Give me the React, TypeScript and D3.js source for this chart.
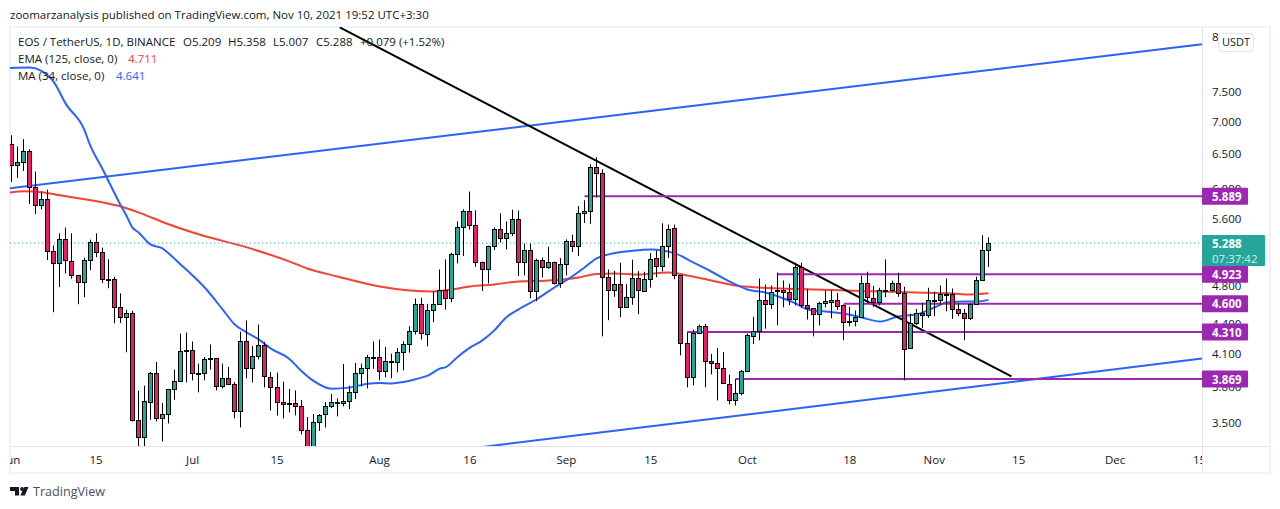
import React from "react";
import { scaleLinear, scaleLog, line, curveMonotoneX, format } from "d3";

// daily candles, index 0 = Jun 1 2021
const opens = [
  6.635,6.325,6.379,6.543,6.023,5.778,5.858,5.197,5.055,5.343,5.079,4.917,4.838,5.090,5.306,5.185,4.872,4.870,4.568,4.464,
  4.505,3.521,3.385,3.670,3.923,3.537,3.570,3.781,3.852,4.136,4.136,3.923,3.923,4.052,4.061,3.808,3.878,3.825,3.594,4.223,
  3.969,4.080,4.185,3.887,3.799,3.670,3.661,3.661,3.636,3.441,3.303,3.505,3.570,3.636,3.670,3.661,3.678,3.755,3.923,3.969,
  4.070,4.070,3.941,4.033,4.024,4.117,4.190,4.317,4.599,4.288,4.536,4.599,4.750,4.663,5.161,5.492,5.698,5.518,5.067,4.985,
  5.257,5.467,5.355,5.417,5.594,5.067,5.208,4.739,5.090,5.008,5.067,4.827,5.044,5.318,5.257,5.672,5.698,6.306,6.219,4.895,
  4.750,4.816,4.568,4.674,4.883,4.739,4.872,5.114,5.019,5.257,5.480,4.917,4.204,3.887,4.302,4.372,4.033,4.015,3.969,3.825,
  3.686,3.747,3.941,4.270,4.321,4.642,4.599,4.750,4.753,4.728,4.653,5.008,4.584,4.553,4.490,4.610,4.621,4.642,4.584,4.423,
  4.423,4.464,4.827,4.663,4.621,4.750,4.750,4.827,4.717,4.155,4.402,4.505,4.484,4.642,4.642,4.707,4.707,4.546,4.505,4.453,
  4.599,4.861,5.209,
];
const highs = [
  6.777,6.604,6.716,6.563,6.234,5.953,5.981,5.261,5.408,5.480,5.408,4.917,5.114,5.330,5.408,5.233,5.094,4.895,4.710,4.536,
  4.526,3.766,3.810,3.932,4.024,3.661,3.781,3.953,4.295,4.305,4.217,4.008,4.070,4.188,4.061,4.008,3.978,3.843,4.314,4.426,
  4.175,4.385,4.214,3.932,3.926,3.845,3.781,3.769,3.686,3.545,3.570,3.570,3.670,3.738,3.700,4.005,3.810,4.015,4.008,4.089,
  4.217,4.236,4.165,4.101,4.155,4.220,4.368,4.656,4.663,4.599,4.735,4.977,5.094,5.173,5.560,5.715,5.953,5.702,5.067,5.257,
  5.480,5.663,5.560,5.711,5.698,5.282,5.282,5.102,5.114,5.245,5.067,5.109,5.334,5.392,5.759,5.835,6.340,6.442,6.267,4.977,
  4.962,5.055,4.812,5.090,4.958,4.951,5.168,5.197,5.534,5.518,5.518,4.917,4.302,4.334,4.385,4.392,4.099,4.155,4.117,3.908,
  3.869,3.950,4.295,4.464,4.875,4.808,4.797,4.940,4.853,4.816,5.055,5.055,4.761,4.553,4.621,4.742,4.742,4.717,4.592,4.568,
  4.529,4.906,4.951,4.794,4.772,5.094,4.850,4.940,4.783,4.495,4.546,4.610,4.772,4.731,4.797,4.875,4.764,4.603,4.546,4.599,
  4.895,5.384,5.358,
];
const lows = [
  6.086,6.143,6.243,5.785,5.654,5.715,5.086,4.511,4.779,4.932,4.872,4.595,4.670,4.969,5.121,4.823,4.767,4.398,4.402,4.114,
  3.509,3.300,3.300,3.523,3.509,3.351,3.493,3.689,3.848,3.839,3.857,3.752,3.857,3.953,3.769,3.786,3.822,3.534,3.461,3.875,
  3.839,4.048,3.795,3.599,3.558,3.534,3.583,3.558,3.406,3.250,3.270,3.433,3.461,3.619,3.550,3.633,3.611,3.695,3.804,3.786,
  3.960,3.857,3.883,3.875,3.929,3.947,4.111,4.285,4.236,4.171,4.408,4.599,4.539,4.616,5.047,5.133,5.458,5.008,4.735,4.820,
  5.204,5.294,5.212,5.375,4.901,4.909,4.659,4.627,4.887,4.985,4.808,4.772,4.909,5.180,5.133,5.538,5.526,5.875,4.268,4.429,
  4.674,4.460,4.557,4.589,4.490,4.731,4.775,4.889,4.954,5.109,4.867,4.085,3.795,3.813,4.292,3.795,3.911,3.683,3.834,3.650,
  3.641,3.726,3.941,4.192,4.229,4.344,4.546,4.378,4.563,4.585,4.582,4.557,4.436,4.268,4.375,4.563,4.449,4.536,4.229,4.368,
  4.368,4.460,4.610,4.568,4.582,4.670,4.728,4.674,3.857,4.146,4.381,4.351,4.453,4.470,4.589,4.521,4.443,4.470,4.229,4.429,
  4.589,4.850,5.007,
];
const closes = [
  6.325,6.379,6.543,6.023,5.778,5.858,5.197,5.055,5.343,5.090,4.917,4.838,5.090,5.306,5.185,4.872,4.870,4.568,4.464,4.505,
  3.521,3.385,3.678,3.923,3.537,3.570,3.781,3.852,4.127,4.127,3.923,3.923,4.052,4.061,3.808,3.878,3.825,3.594,4.223,3.969,
  4.080,4.185,3.896,3.799,3.670,3.653,3.653,3.636,3.441,3.303,3.505,3.562,3.636,3.670,3.661,3.678,3.755,3.923,3.969,4.070,
  4.068,3.941,4.033,4.024,4.117,4.193,4.317,4.599,4.302,4.536,4.599,4.750,4.663,5.161,5.492,5.698,5.518,5.067,4.985,5.257,
  5.467,5.355,5.417,5.594,5.067,5.208,4.739,5.090,5.008,5.067,4.827,5.044,5.318,5.257,5.672,5.698,6.306,6.219,4.895,4.750,
  4.816,4.568,4.674,4.883,4.750,4.872,5.102,5.019,5.257,5.467,4.917,4.204,3.884,4.302,4.372,4.033,4.015,3.969,3.834,3.686,
  3.747,3.941,4.282,4.321,4.642,4.599,4.728,4.739,4.728,4.653,5.008,4.584,4.553,4.490,4.606,4.632,4.642,4.578,4.412,4.412,
  4.464,4.827,4.674,4.621,4.750,4.748,4.827,4.717,4.146,4.402,4.505,4.484,4.642,4.640,4.707,4.705,4.546,4.505,4.453,4.599,
  4.861,5.209,5.288,
];

const maDays = [-1,3,5,7,9,12,13,15,18,19,20,21,23,25,26,28,30,32,35,37,39,41,43,46,48,50,53,56,59,61,63,65,67,69,71,72,74,76,78,80,82,84,87,90,93,95,97,99,103,106,110,113,116,119,122,125,128,130,132,135,138,141,144,147,150,153,155,158,160,162];
const maValues = [7.909,7.918,7.855,7.658,7.279,6.872,6.623,6.281,5.781,5.637,5.483,5.421,5.273,5.224,5.165,5.035,4.909,4.775,4.539,4.385,4.305,4.236,4.149,4.054,3.944,3.854,3.784,3.793,3.828,3.834,3.830,3.843,3.868,3.899,3.962,3.976,4.073,4.159,4.226,4.324,4.457,4.539,4.645,4.775,4.900,5.000,5.106,5.153,5.197,5.212,5.165,5.059,4.954,4.842,4.753,4.721,4.656,4.603,4.539,4.518,4.498,4.457,4.416,4.467,4.487,4.560,4.613,4.624,4.624,4.641];
const emaDays = [-1,2,5,8,11,15,18,21,26,31,39,46,49,54,61,66,70,73,76,80,84,89,94,97,100,104,109,112,116,120,124,130,136,144,150,156,159,162];
const emaValues = [5.930,5.958,5.944,5.903,5.862,5.808,5.755,5.676,5.522,5.396,5.236,5.071,4.989,4.898,4.786,4.742,4.731,4.753,4.786,4.808,4.842,4.853,4.887,4.926,4.932,4.920,4.943,4.909,4.853,4.797,4.775,4.759,4.748,4.731,4.721,4.710,4.699,4.711];

// horizontal levels drawn on the chart
const levelValues = [5.889, 4.923, 4.6, 4.31, 3.869];
const levelStarts = [95, 127, 138, 112, 120];

// trend lines: [day, price] ends
const upperChannel = [[-0.3, 5.998], [197.4, 8.353]];
const lowerChannel = [[77.7, 3.307], [197.4, 4.055]];
const downTrend = [[54.4, 8.685], [165.8, 3.893]];

const priceTicks = [8.5, 7.5, 7, 6.5, 6, 5.6, 4.8, 4.4, 4.1, 3.8, 3.5];
const timeLabels = ["Jun", "15", "Jul", "15", "Aug", "16", "Sep", "15", "Oct", "18", "Nov", "15", "Dec", "15"];
const timeDays = [0, 14, 30, 44, 61, 76, 92, 106, 122, 139, 153, 167, 183, 197];

const lastPrice = 5.288;

const UP = "#26a69a";
const DOWN = "#e91e63";
const BLUE = "#2962ff";
const RED = "#f44336";
const PURPLE = "#9c27b0";
const FONT = "'Open Sans', sans-serif";
const TEXT = "#131722";

const left = 10;
const right = 1202;
const top = 27;
const bottom = 446;

const x = scaleLinear().domain([0, 162]).range([11.7, 988.5]);
const y = scaleLog().domain([3.869, 5.889]).range([379, 196.3]);
const fmt = format(".3f");

const trendPath = line<number[]>().x((d) => x(d[0])).y((d) => y(d[1]));

const curvePath = (days: number[], values: number[]) =>
  line<number>()
    .x((d) => x(d))
    .y((_, i) => y(values[i]))
    .curve(curveMonotoneX)(days) as string;

const Candle = ({ i }: { i: number }) => {
  const cx = Math.floor(x(i)) + 0.5;
  const yTop = Math.round(y(Math.max(opens[i], closes[i]))) + 0.5;
  const yBot = Math.round(y(Math.min(opens[i], closes[i]))) + 0.5;
  return (
    <g>
      <line x1={cx} x2={cx} y1={y(highs[i])} y2={y(lows[i])} stroke="#000" />
      <rect
        x={cx - 2}
        y={yTop}
        width={4}
        height={Math.max(yBot - yTop, 1)}
        fill={closes[i] >= opens[i] ? UP : DOWN}
        stroke="#000"
      />
    </g>
  );
};

const App: React.FC = () => {
  return (
    <svg
      width={1280}
      height={509}
      style={{ position: "absolute", left: 0, top: 0, display: "block", background: "#fff" }}
      fontFamily={FONT}
    >
      <defs>
        <clipPath id="plot">
          <rect x={left} y={top} width={right - left} height={bottom - top} />
        </clipPath>
        <clipPath id="timeClip">
          <rect x={left} y={bottom} width={right - left} height={30} />
        </clipPath>
      </defs>

      <text x={10} y={19} fontSize={11.5} fill={TEXT}>
        zoomarzanalysis published on TradingView.com, Nov 10, 2021 19:52 UTC+3:30
      </text>

      <rect x={10} y={27} width={1260} height={446} fill="#fff" stroke="#f0f3fa" strokeWidth={2} />
      <line x1={right + 0.5} x2={right + 0.5} y1={top} y2={473} stroke="#e0e3eb" />
      <line x1={left} x2={1270} y1={bottom + 0.5} y2={bottom + 0.5} stroke="#e0e3eb" />

      <g clipPath="url(#plot)">
        <line x1={left} x2={right} y1={y(lastPrice)} y2={y(lastPrice)} stroke={UP} strokeDasharray="1 3" />
        <path d={curvePath(emaDays, emaValues)} fill="none" stroke={RED} strokeWidth={2} />
        <path d={curvePath(maDays, maValues)} fill="none" stroke={BLUE} strokeWidth={2} />
        <path d={trendPath(upperChannel) as string} fill="none" stroke={BLUE} strokeWidth={2} />
        <path d={trendPath(lowerChannel) as string} fill="none" stroke={BLUE} strokeWidth={2} />
        <path d={trendPath(downTrend) as string} fill="none" stroke="#000" strokeWidth={2} />
        {levelValues.map((v, i) => (
          <line key={v} x1={x(levelStarts[i])} x2={right} y1={y(v)} y2={y(v)} stroke={PURPLE} strokeWidth={2} />
        ))}
        {opens.map((_, i) => (
          <Candle key={i} i={i} />
        ))}
      </g>

      {/* legend */}
      <g fontSize={11.5} fill={TEXT}>
        <text x={18} y={46}>
          EOS / TetherUS, 1D, BINANCE
          <tspan x={183}>O5.209</tspan>
          <tspan x={228}>H5.358</tspan>
          <tspan x={273}>L5.007</tspan>
          <tspan x={316}>C5.288</tspan>
          <tspan x={360}>+0.079 (+1.52%)</tspan>
        </text>
        <text x={18} y={63}>
          EMA (125, close, 0)
          <tspan x={128} fill={RED}>4.711</tspan>
        </text>
        <text x={18} y={80}>
          MA (34, close, 0)
          <tspan x={116} fill={BLUE}>4.641</tspan>
        </text>
      </g>

      {/* price axis */}
      <g fontSize={11.5} fill={TEXT}>
        {priceTicks.map((p) => (
          <text key={p} x={1212} y={y(p)} dy="0.4em">
            {fmt(p)}
          </text>
        ))}
      </g>
      {levelValues.map((v) => (
        <g key={v}>
          <rect x={right} y={y(v) - 8.5} width={46} height={17} rx={1} fill={PURPLE} />
          <text x={1212} y={y(v)} dy="0.4em" fontSize={11.5} fontWeight={700} fill="#fff">
            {fmt(v)}
          </text>
        </g>
      ))}
      <rect x={right} y={235} width={63} height={31} rx={1} fill={UP} />
      <text x={1212} y={y(lastPrice)} dy="0.4em" fontSize={11.5} fontWeight={700} fill="#fff">
        {fmt(lastPrice)}
      </text>
      <text x={1212} y={258} dy="0.4em" fontSize={11.5} fill="#d4edea">
        07:37:42
      </text>
      <rect x={1218.5} y={33.5} width={35} height={18} rx={4} fill="#fff" stroke="#e0e3eb" />
      <text x={1236} y={42.5} dy="0.35em" fontSize={11} textAnchor="middle" fill={TEXT}>
        USDT
      </text>

      {/* time axis */}
      <g clipPath="url(#timeClip)" fontSize={11.5} fill={TEXT} textAnchor="middle">
        {timeLabels.map((t, i) => (
          <text key={i} x={x(timeDays[i])} y={459} dy="0.4em">
            {t}
          </text>
        ))}
      </g>

      {/* logo */}
      <path d="M10 487h9v8.5h-4v-4.5h-5zM28.5 487h-4.2l-4 8.5h4.5z" fill="#131722" />
      <circle cx={22} cy={489} r={1.9} fill="#131722" />
      <text x={33} y={496} fontSize={12.6} fill="#4a4e5a">
        TradingView
      </text>
    </svg>
  );
};

export default App;
